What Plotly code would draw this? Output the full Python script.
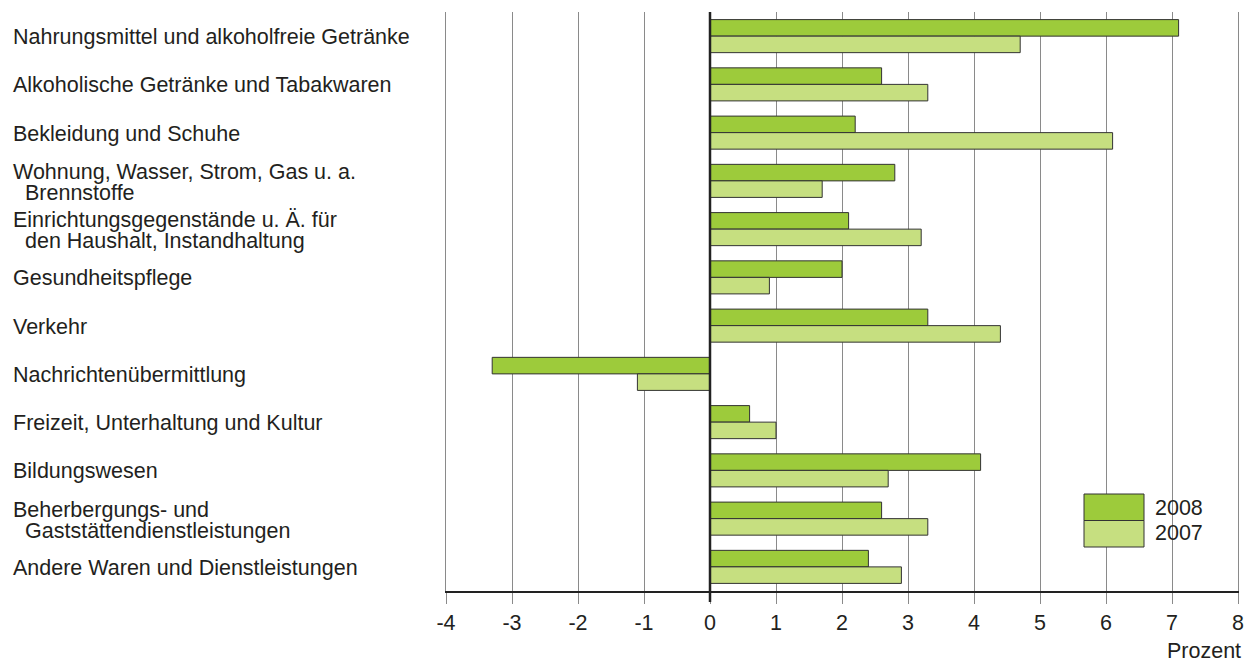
import plotly.graph_objects as go

categories = [
    "Nahrungsmittel und alkoholfreie Getränke",
    "Alkoholische Getränke und Tabakwaren",
    "Bekleidung und Schuhe",
    "Wohnung, Wasser, Strom, Gas u. a. Brennstoffe",
    "Einrichtungsgegenstände u. Ä. für den Haushalt, Instandhaltung",
    "Gesundheitspflege",
    "Verkehr",
    "Nachrichtenübermittlung",
    "Freizeit, Unterhaltung und Kultur",
    "Bildungswesen",
    "Beherbergungs- und Gaststättendienstleistungen",
    "Andere Waren und Dienstleistungen",
]
label_lines = [
    ["Nahrungsmittel und alkoholfreie Getränke"],
    ["Alkoholische Getränke und Tabakwaren"],
    ["Bekleidung und Schuhe"],
    ["Wohnung, Wasser, Strom, Gas u. a.", "Brennstoffe"],
    ["Einrichtungsgegenstände u. Ä. für", "den Haushalt, Instandhaltung"],
    ["Gesundheitspflege"],
    ["Verkehr"],
    ["Nachrichtenübermittlung"],
    ["Freizeit, Unterhaltung und Kultur"],
    ["Bildungswesen"],
    ["Beherbergungs- und", "Gaststättendienstleistungen"],
    ["Andere Waren und Dienstleistungen"],
]
values_2008 = [7.1, 2.6, 2.2, 2.8, 2.1, 2.0, 3.3, -3.3, 0.6, 4.1, 2.6, 2.4]
values_2007 = [4.7, 3.3, 6.1, 1.7, 3.2, 0.9, 4.4, -1.1, 1.0, 2.7, 3.3, 2.9]
x_ticks = list(range(-4, 9))

C2008 = "#9dcb3b"
C2007 = "#c6df80"
FONT = "Liberation Sans, Arial, sans-serif"
FS = 21.5
TXT = "#231f20"

# page body has an 8px margin: figure is sized/positioned to compensate
PLOT_L, PLOT_R, PLOT_T, PLOT_B = 446, 1238, 12, 591
PW, PH = PLOT_R - PLOT_L, PLOT_B - PLOT_T

fig = go.Figure()
fig.add_trace(go.Bar(y=categories, x=values_2008, orientation="h", name="2008",
                     marker=dict(color=C2008, line=dict(color="#333333", width=1))))
fig.add_trace(go.Bar(y=categories, x=values_2007, orientation="h", name="2007",
                     marker=dict(color=C2007, line=dict(color="#333333", width=1))))

annotations = []
for cat, lines in zip(categories, label_lines):
    if len(lines) == 1:
        annotations.append(dict(x=0, xref="paper", xshift=-435, y=cat, yref="y", yshift=-1,
                                text=lines[0], showarrow=False, xanchor="left",
                                yanchor="middle", font=dict(size=FS, color=TXT)))
    else:
        annotations.append(dict(x=0, xref="paper", xshift=-435, y=cat, yref="y", yshift=9,
                                text=lines[0], showarrow=False, xanchor="left",
                                yanchor="middle", font=dict(size=FS, color=TXT)))
        annotations.append(dict(x=0, xref="paper", xshift=-423, y=cat, yref="y", yshift=-12,
                                text=lines[1], showarrow=False, xanchor="left",
                                yanchor="middle", font=dict(size=FS, color=TXT)))

# manual legend
lx0, lx1 = (1084 - PLOT_L) / PW, (1144 - PLOT_L) / PW
ly0, lym, ly1 = (PLOT_B - 547) / PH, (PLOT_B - 520.5) / PH, (PLOT_B - 494) / PH
shapes = [
    dict(type="rect", xref="paper", yref="paper", x0=lx0, x1=lx1, y0=lym, y1=ly1,
         fillcolor=C2008, line=dict(color="#333333", width=1), layer="above"),
    dict(type="rect", xref="paper", yref="paper", x0=lx0, x1=lx1, y0=ly0, y1=lym,
         fillcolor=C2007, line=dict(color="#333333", width=1), layer="above"),
    dict(type="line", xref="x", yref="paper", x0=0, x1=0, y0=-0.019, y1=1,
         line=dict(color="#222222", width=2.5), layer="above"),
]
annotations.append(dict(x=(1153 - PLOT_L) / PW, y=(PLOT_B - 508) / PH, xref="paper", yref="paper",
                        text="2008", showarrow=False, xanchor="left", yanchor="middle",
                        font=dict(size=FS, color=TXT)))
annotations.append(dict(x=(1153 - PLOT_L) / PW, y=(PLOT_B - 533) / PH, xref="paper", yref="paper",
                        text="2007", showarrow=False, xanchor="left", yanchor="middle",
                        font=dict(size=FS, color=TXT)))
annotations.append(dict(x=1, y=(PLOT_B - 651) / PH, xref="paper", yref="paper", xshift=5,
                        text="Prozent", showarrow=False, xanchor="right", yanchor="middle",
                        font=dict(size=FS, color=TXT)))

fig.update_layout(
    width=1245, height=654,
    margin=dict(l=PLOT_L - 8, r=1253 - PLOT_R, t=PLOT_T - 8, b=662 - PLOT_B),
    paper_bgcolor="white", plot_bgcolor="white",
    barmode="group", bargap=0.315, bargroupgap=0,
    showlegend=False,
    font=dict(family=FONT, size=FS, color=TXT),
    xaxis=dict(range=[-4, 8], tickvals=x_ticks, ticktext=[str(v) for v in x_ticks],
               showgrid=True, gridcolor="#8a8a8a", gridwidth=1,
               zeroline=False, showline=True, linecolor="#222222", linewidth=2,
               ticks="outside", ticklen=11, tickcolor="#8a8a8a", tickwidth=1,
               tickfont=dict(size=FS, color=TXT)),
    yaxis=dict(autorange="reversed", showticklabels=False, showgrid=False,
               zeroline=False, showline=True, mirror=True, linecolor="#8a8a8a",
               linewidth=1, ticks=""),
    shapes=shapes,
    annotations=annotations,
)

fig.write_html("out.html")
